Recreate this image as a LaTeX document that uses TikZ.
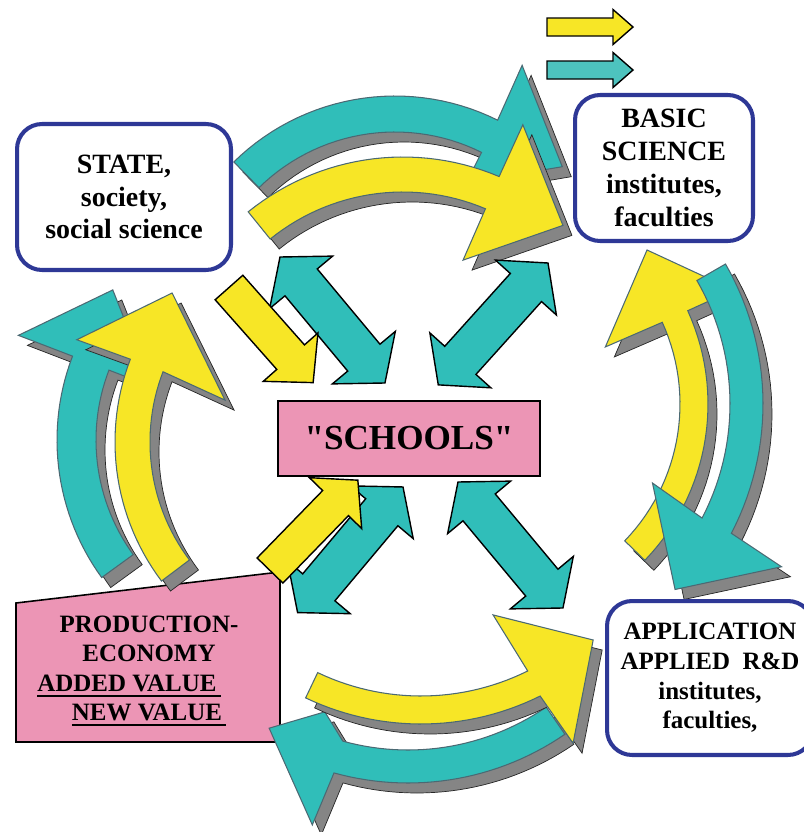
\documentclass[tikz,border=0pt]{standalone}
\usepackage{fontspec}
\setmainfont{Liberation Serif}
\newfontfamily\plainserif{Liberation Serif}

\definecolor{tealfill}{RGB}{48,190,185}
\definecolor{teallight}{RGB}{77,195,190}
\definecolor{yellfill}{RGB}{247,230,38}
\definecolor{pinkfill}{RGB}{236,149,181}
\definecolor{navyline}{RGB}{46,56,150}
\definecolor{slateline}{RGB}{75,105,115}

\tikzset{
  tealband/.style={fill=tealfill, draw=slateline, line width=0.6pt},
  yellband/.style={fill=yellfill, draw=slateline, line width=0.6pt},
  bandshadow/.style={fill=black!48, draw=black!85, line width=0.4pt},
  tealblock/.style={fill=tealfill, draw=black, line width=0.8pt},
  yellblock/.style={fill=yellfill, draw=black, line width=0.8pt},
  infobox/.style={draw=navyline, line width=2.3pt, fill=white, rounded corners=0.5cm,
    align=center, font=\bfseries\fontsize{15.9}{18.7}\selectfont},
  pinkbox/.style={fill=pinkfill, draw=black, line width=0.9pt}
}

% thick underline
\newcommand{\uline}[1]{\setbox0\hbox{#1}\rlap{\rule[-3.2pt]{\wd0}{1.1pt}}\box0}

% curved band arrow: style, centre, radius a, radius b, tail angle, head angle, head points
\newcommand{\bendarrow}[7]{%
  \begin{scope}[shift={#2}]
    \path[bandshadow,shift={(9,10)}] plot[domain=#5:#6,samples=30] (\x:#3) -- #7
      -- plot[domain=#6:#5,samples=30] (\x:#4) -- cycle;
    \path[#1] plot[domain=#5:#6,samples=30] (\x:#3) -- #7
      -- plot[domain=#6:#5,samples=30] (\x:#4) -- cycle;
  \end{scope}}

% straight block arrow: style, tail, angle, length, shaft half, head half, head length
\newcommand{\blockarrow}[7]{%
  \path[#1,shift={#2},rotate={0-(#3)}] (0,-#5) -- ({#4-#7},-#5) -- ({#4-#7},-#6) -- (#4,0)
    -- ({#4-#7},#6) -- ({#4-#7},#5) -- (0,#5) -- cycle;}

% double block arrow: style, first tip, angle, length, shaft half, head half, head length
\newcommand{\twoarrow}[7]{%
  \path[#1,shift={#2},rotate={0-(#3)}] (0,0) -- (#7,-#6) -- (#7,-#5) -- ({#4-#7},-#5)
    -- ({#4-#7},-#6) -- (#4,0) -- ({#4-#7},#6) -- ({#4-#7},#5) -- (#7,#5) -- (#7,#6) -- cycle;}

\begin{document}
\begin{tikzpicture}[x=0.02cm,y=-0.02cm]
  \useasboundingbox (0,0) rectangle (804,832);

  %production box
  \path[pinkbox] (16,603) -- (280,572) -- (280,742) -- (16,742) -- cycle;
  \node[align=center, font=\bfseries\fontsize{14.2}{16.6}\selectfont] (prod) at (149,671)
    {PRODUCTION-\\ECONOMY\\\uline{ADDED VALUE\,}\rule{0.8cm}{0pt}\\\uline{NEW VALUE\,}};

  %top pair
  \bendarrow{tealband}{(395,326)}{230}{194}{-134.5}{-63.5}{(-64:290) -- (-43.6:231) -- (-63.5:160)}
  \bendarrow{yellband}{(403,403)}{246}{211}{-129}{-67}{(-66.7:303) -- (-48:239) -- (-67.2:155)}

  %left pair
  \bendarrow{tealband}{(291,440)}{234}{195}{144}{201}{(201:292) -- (220.1:233) -- (201:150)}
  \bendarrow{yellband}{(346,442)}{231}{196}{143}{201}{(200.8:288) -- (220.6:229) -- (199.1:128)}

  %right pair
  \bendarrow{yellband}{(483,404)}{225}{197}{44}{-24.5}{(-24.5:275) -- (-43.2:225) -- (-25:135)}
  \bendarrow{tealband}{(483,404)}{280}{247}{-30}{27.5}{(28.6:340) -- (44:267) -- (25:187)}

  %bottom pair
  \bendarrow{tealband}{(408,506)}{277}{244}{55.5}{105.5}{(106.7:333) -- (122:262) -- (112:222)}
  \bendarrow{yellband}{(421,456)}{268}{240}{115.5}{63.6}{(62.1:325) -- (46.9:252) -- (65.6:174.5)}

  %arrows round the schools
  \twoarrow{tealblock}{(280,257)}{50.2}{164}{21}{41}{33}
  \twoarrow{tealblock}{(548,263)}{132}{164}{21}{41}{33}
  \twoarrow{tealblock}{(297.6,612.6)}{-50}{164}{21}{41}{33}
  \twoarrow{tealblock}{(458,482)}{50.2}{164}{21}{41}{33}
  \blockarrow{yellblock}{(229,287.5)}{48.5}{127}{18.5}{36.5}{34}
  \blockarrow{yellblock}{(270,570.5)}{-45.8}{126}{18}{36.5}{32}

  %boxes
  \node[pinkbox, minimum width=5.24cm, minimum height=1.5cm,
    font=\plainserif\bfseries\fontsize{20}{24}\selectfont] (schools) at (409,438.5) {"SCHOOLS"};
  \node[infobox, minimum width=4.28cm, minimum height=2.92cm] (state) at (124,197)
    {STATE,\\society,\\social science};
  \node[infobox, minimum width=3.56cm, minimum height=2.92cm] (basic) at (664,168)
    {BASIC\\SCIENCE\\institutes,\\faculties};
  \node[infobox, minimum width=4.12cm, minimum height=3.08cm,
    font=\bfseries\fontsize{14.2}{16.9}\selectfont] (appl) at (710,678)
    {APPLICATION\\APPLIED\ \ R\&D\\institutes,\\faculties,};

  %legend arrows
  \blockarrow{yellblock}{(547,27)}{0}{86}{9}{17.5}{20}
  \blockarrow{tealblock, fill=teallight}{(547,70)}{0}{86}{9}{17.5}{20}
\end{tikzpicture}
\end{document}
